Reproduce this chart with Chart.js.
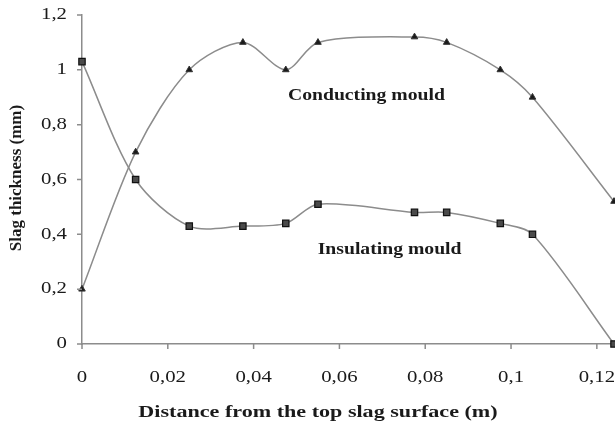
<!DOCTYPE html>
<html>
<head>
<meta charset="utf-8">
<script src="https://cdn.jsdelivr.net/npm/chart.js@4"></script>
<style>
html,body{margin:0;padding:0;background:#fff;}
#wrap{width:615px;height:426px;position:relative;}
</style>
</head>
<body>
<div id="wrap"><canvas id="c" width="615" height="426"></canvas></div>
<script>
// Data
const distance = [0, 0.0125, 0.025, 0.0375, 0.0475, 0.055, 0.0775, 0.085, 0.0975, 0.105, 0.124];
const conducting = [0.2, 0.70, 1.0, 1.1, 1.0, 1.1, 1.12, 1.1, 1.0, 0.9, 0.52];
const insulating = [1.03, 0.60, 0.43, 0.43, 0.44, 0.51, 0.48, 0.48, 0.44, 0.40, 0.0];
const xTicks = [0, 0.02, 0.04, 0.06, 0.08, 0.1, 0.12];
const yTicks = [0, 0.2, 0.4, 0.6, 0.8, 1.0, 1.2];
const xTitle = "Distance from the top slag surface (m)";
const yTitle = "Slag thickness (mm)";
const labelConducting = "Conducting mould";
const labelInsulating = "Insulating mould";

const fmt = v => String(Math.round(v * 100) / 100).replace('.', ',');
const serif = "'Liberation Serif', 'DejaVu Serif', serif";
const STRETCH = 1.3;

const toXY = (xs, ys) => xs.map((x, i) => ({x: x, y: ys[i]}));

function stretchedText(ctx, text, x, y, sx, align) {
  ctx.save();
  ctx.translate(x, y);
  ctx.scale(sx, 1);
  ctx.textAlign = align || 'center';
  ctx.fillText(text, 0, 0);
  ctx.restore();
}

const textPlugin = {
  id: 'texts',
  afterDraw(chart) {
    const ctx = chart.ctx;
    const xs = chart.scales.x, ys = chart.scales.y;
    const a = chart.chartArea;
    ctx.save();
    // tick marks
    ctx.strokeStyle = '#8c8c8c';
    ctx.lineWidth = 1.5;
    ctx.beginPath();
    xTicks.forEach(v => { const px = xs.getPixelForValue(v); ctx.moveTo(px, a.bottom); ctx.lineTo(px, a.bottom + 5); });
    yTicks.forEach(v => { const py = ys.getPixelForValue(v); ctx.moveTo(a.left - 5, py); ctx.lineTo(a.left, py); });
    ctx.stroke();
    ctx.fillStyle = '#1a1a1a';
    ctx.textBaseline = 'middle';
    // tick labels
    ctx.font = "16px " + serif;
    xTicks.forEach(v => stretchedText(ctx, fmt(v), xs.getPixelForValue(v), 378, STRETCH, 'center'));
    yTicks.forEach(v => stretchedText(ctx, fmt(v), 67, ys.getPixelForValue(v), STRETCH, 'right'));
    // annotations
    ctx.font = "bold 16px " + serif;
    stretchedText(ctx, labelConducting, xs.getPixelForValue(0.0663), ys.getPixelForValue(0.905), 1.23);
    stretchedText(ctx, labelInsulating, xs.getPixelForValue(0.0717), ys.getPixelForValue(0.345), 1.23);
    // axis titles
    ctx.font = "bold 17px " + serif;
    stretchedText(ctx, xTitle, 318, 413, STRETCH);
    ctx.translate(17, 178);
    ctx.rotate(-Math.PI / 2);
    ctx.textAlign = 'center';
    ctx.fillText(yTitle, 0, 0);
    ctx.restore();
  }
};

new Chart(document.getElementById('c'), {
  type: 'line',
  data: {
    datasets: [
      {
        label: labelConducting,
        data: toXY(distance, conducting),
        borderColor: '#8c8c8c',
        borderWidth: 1.5,
        tension: 0.3,
        pointStyle: 'triangle',
        pointRadius: 3.8,
        pointBackgroundColor: '#1a1a1a',
        pointBorderColor: '#333',
        pointBorderWidth: 1,
        clip: false
      },
      {
        label: labelInsulating,
        data: toXY(distance, insulating),
        borderColor: '#8c8c8c',
        borderWidth: 1.5,
        tension: 0.3,
        pointStyle: 'rect',
        pointRadius: 4.5,
        pointBackgroundColor: '#4a4a4a',
        pointBorderColor: '#111',
        pointBorderWidth: 1.2,
        clip: false
      }
    ]
  },
  options: {
    responsive: false,
    animation: false,
    events: [],
    layout: {autoPadding: false, padding: {top: 15, right: 1, left: 0, bottom: 0}},
    plugins: {legend: {display: false}, tooltip: {enabled: false}},
    scales: {
      x: {
        type: 'linear',
        min: 0,
        max: 0.124,
        afterBuildTicks: s => { s.ticks = xTicks.map(v => ({value: v})); },
        afterFit: s => { s.height = 82; s.paddingLeft = 0; s.paddingRight = 0; },
        border: {display: true, color: '#8c8c8c', width: 1.5},
        grid: {drawOnChartArea: false, drawTicks: false},
        ticks: {display: false}
      },
      y: {
        type: 'linear',
        min: 0,
        max: 1.2,
        afterBuildTicks: s => { s.ticks = yTicks.map(v => ({value: v})); },
        afterFit: s => { s.width = 82; s.paddingTop = 0; s.paddingBottom = 0; },
        border: {display: true, color: '#8c8c8c', width: 1.5},
        grid: {drawOnChartArea: false, drawTicks: false},
        ticks: {display: false}
      }
    }
  },
  plugins: [textPlugin]
});
</script>
</body>
</html>
